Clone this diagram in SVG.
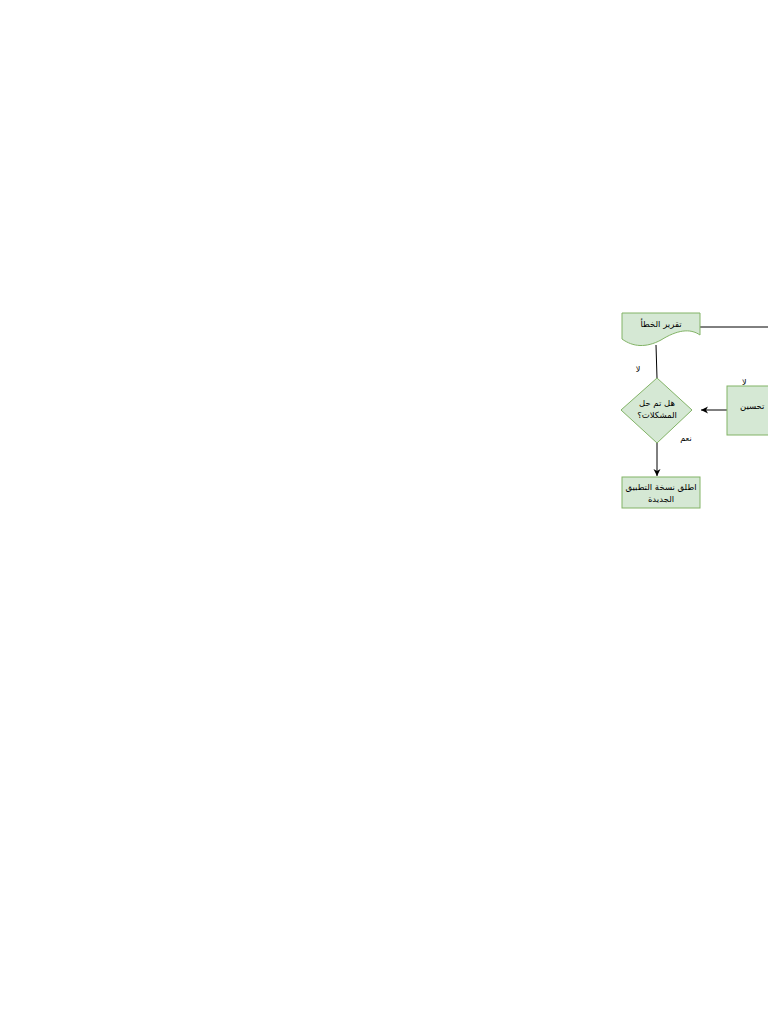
<svg xmlns="http://www.w3.org/2000/svg" width="768" height="1024" viewBox="0 0 768 1024">
<style>
.n{fill:#d5e8d4;stroke:#82b366;stroke-width:1}
.t{font-family:"DejaVu Sans","Noto Sans",sans-serif;font-size:8.5px;fill:#000;text-anchor:middle}
.l{font-family:"DejaVu Sans","Noto Sans",sans-serif;font-size:8px;fill:#000;text-anchor:middle}
.e{fill:none;stroke:#000;stroke-width:1}
</style>
<defs>
<marker id="a" markerWidth="8" markerHeight="8" refX="7" refY="4" orient="auto" markerUnits="userSpaceOnUse">
<path d="M0,0.5 L7,4 L0,7.5 L2,4 Z" fill="#000"/>
</marker>
</defs>
<rect width="768" height="1024" fill="#fff"/>
<g id="edges">
<path class="e" d="M700,327 H768"/>
<path class="e" d="M656,345 L657,378"/>
<path class="e" d="M657,443 V476" marker-end="url(#a)"/>
<path class="e" d="M727,410 H701" marker-end="url(#a)"/>
<text class="l" x="638" y="372">لا</text>
<text class="l" x="686" y="441">نعم</text>
<text class="l" x="742" y="385" style="text-anchor:start">لا</text>
</g>
<g id="report">
<path class="n" d="M622,313 H700 V335 C690,328 677,330 661,340 C646,348 633,347 622,339 Z"/>
<text class="t" x="661" y="327">تقرير الخطأ</text>
</g>
<g id="decision">
<path class="n" d="M657,378 L692,410 L657,443 L621,410 Z"/>
<text class="t" x="657" y="406">هل تم حل</text>
<text class="t" x="657" y="418">المشكلات؟</text>
</g>
<g id="release">
<rect class="n" x="622" y="477" width="78" height="31"/>
<text class="t" x="661" y="490">اطلق نسخة التطبيق</text>
<text class="t" x="661" y="502">الجديدة</text>
</g>
<g id="fix">
<rect class="n" x="727" y="386" width="78" height="49"/>
<text class="t" x="740" y="409" style="text-anchor:start">تحسين</text>
</g>
</svg>
